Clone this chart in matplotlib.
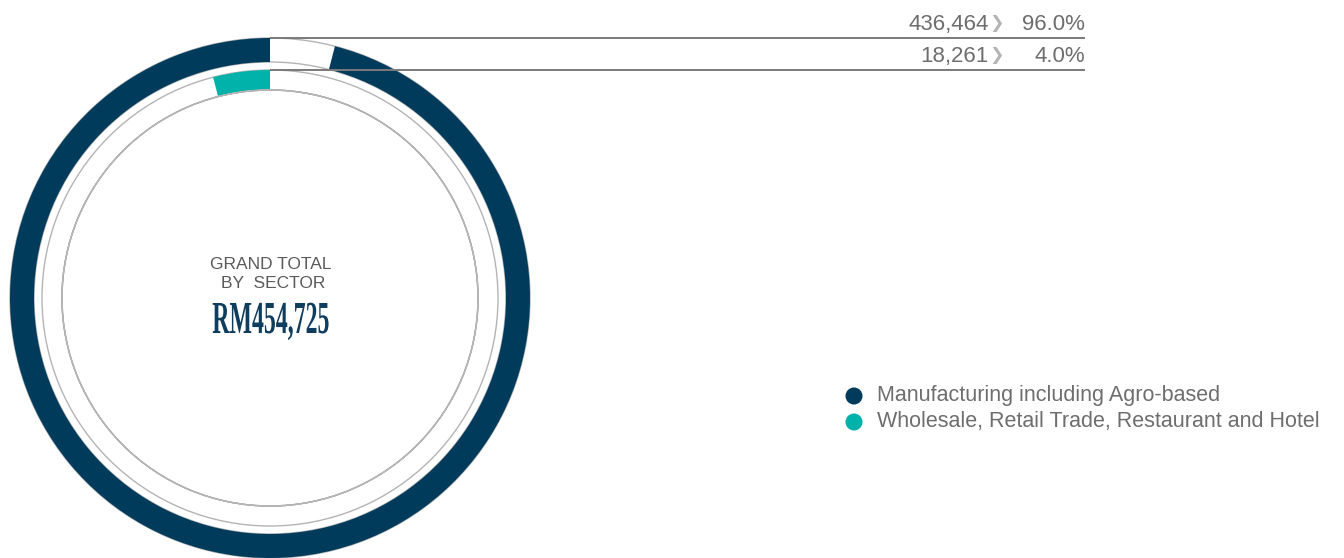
import matplotlib.pyplot as plt
import matplotlib.patheffects as pe
from matplotlib.patches import Wedge
from matplotlib.transforms import Affine2D

# sector data (RM)
sectors = ["Manufacturing including Agro-based",
           "Wholesale, Retail Trade, Restaurant and Hotel"]
amounts = [436464, 18261]
shares = [96.0, 4.0]
colors = ["#003b5c", "#00b2a9"]

total = sum(amounts)

plt.rcParams['font.family'] = ['Liberation Sans', 'DejaVu Sans']

W, H = 1344, 558
fig = plt.figure(figsize=(W / 100, H / 100), dpi=100)
ax = fig.add_axes([0, 0, 1, 1])
ax.set_xlim(0, W)
ax.set_ylim(0, H)
ax.axis('off')

cx, cy = 270, H - 298
rings = [(260, 24), (228, 20)]   # (outer radius, width) for each sector ring
edge = '#b4b4b4'
grey_txt = '#6e6e6e'

for (r, w), val, col in zip(rings, amounts, colors):
    # white track with thin grey rims
    ax.add_patch(Wedge((cx, cy), r, 0, 360, width=w, facecolor='white',
                       edgecolor=edge, lw=1.0))
    span = 360 * val / total
    ax.add_patch(Wedge((cx, cy), r, 90, 90 + span, width=w,
                       facecolor=col, edgecolor='none'))

# inner thin circle
ax.add_patch(Wedge((cx, cy), 208, 0, 360, width=0.01, facecolor='none',
                   edgecolor=edge, lw=1.0))

# leader lines and value labels
line_x1 = 1085
for (r, w), amt, pct in zip(rings, amounts, shares):
    yl = cy + r
    ax.plot([cx, line_x1], [yl, yl], color='#7a7a7a', lw=1.4,
            solid_capstyle='butt')
    yb = yl + 8
    ax.text(989, yb, f"{amt:,}", ha='right', va='baseline',
            fontsize=16, color=grey_txt)
    ax.text(997, yb + 1.5, "❯", ha='center', va='baseline',
            fontsize=12.5, color='#b4b4b4', family='DejaVu Sans')
    ax.text(line_x1, yb, f"{pct:.1f}%", ha='right', va='baseline',
            fontsize=16, color=grey_txt)


class Squeeze(pe.AbstractPathEffect):
    """Narrow the glyphs horizontally around a fixed x position."""

    def __init__(self, sx, x0):
        super().__init__()
        self.sx = sx
        self.x0 = x0

    def draw_path(self, renderer, gc, tpath, affine, rgbFace=None):
        squeeze = Affine2D().translate(-self.x0, 0).scale(self.sx, 1).translate(self.x0, 0)
        renderer.draw_path(gc, tpath, affine + squeeze, rgbFace)


# centre caption
ax.text(271, H - 269, "GRAND TOTAL", ha='center', va='baseline',
        fontsize=12.5, color='#5a5a5a')
ax.text(273, H - 288, "BY  SECTOR", ha='center', va='baseline',
        fontsize=12.5, color='#5a5a5a')
t = ax.text(271, H - 333, f"RM{total:,}", ha='center', va='baseline',
            fontsize=33, color='#0f3d5e', fontweight='bold',
            family='Liberation Serif')
t.set_path_effects([Squeeze(0.52, 271)])

# legend
for i, (name, col) in enumerate(zip(sectors, colors)):
    yy = H - (396 + 26 * i)
    ax.scatter([854], [yy], s=150, color=col, edgecolors='none')
    ax.text(877, yy, name, ha='left', va='center',
            fontsize=15.5, color=grey_txt)

fig.savefig('out.png', dpi=100)
